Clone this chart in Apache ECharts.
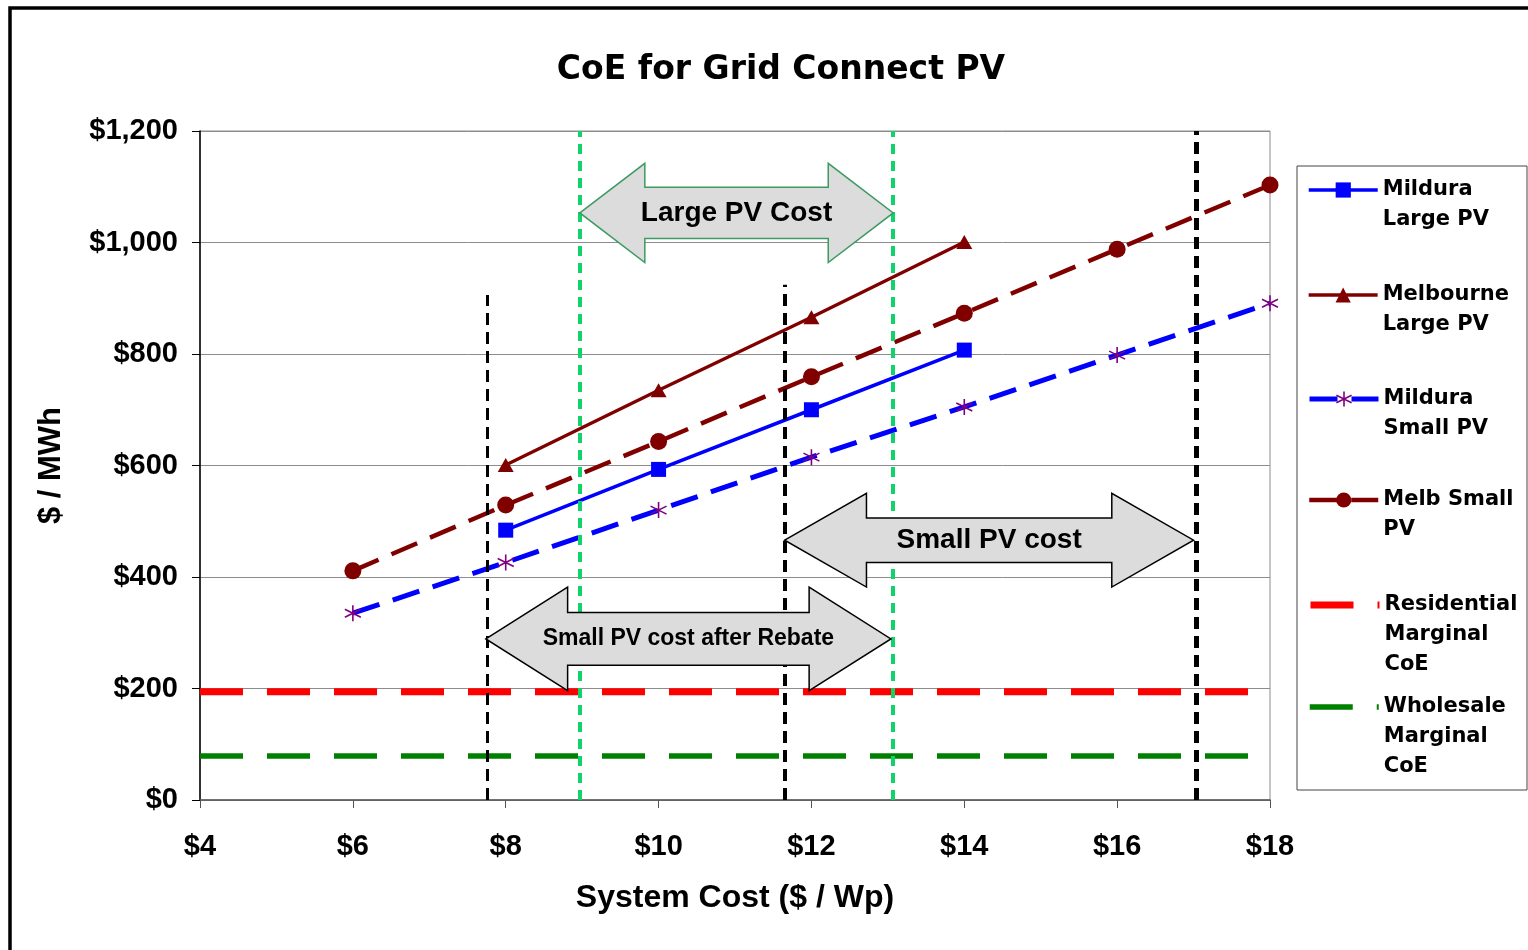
<!DOCTYPE html>
<html>
<head>
<meta charset="utf-8">
<script src="https://cdn.jsdelivr.net/npm/echarts@6/dist/echarts.min.js"></script>
<style>
html,body{margin:0;padding:0;background:#fff;}
#chart{width:1528px;height:950px;}
</style>
</head>
<body>
<div id="chart"></div>
<script>
// ---- data ----
const titleText = 'CoE for Grid Connect PV';
const xTicks = [4, 6, 8, 10, 12, 14, 16, 18];
const yTicks = [0, 200, 400, 600, 800, 1000, 1200];

const largeX = [8, 10, 12, 14];
const smallX = [6, 8, 10, 12, 14, 16, 18];
const milduraLarge = [484, 593, 700, 807];
const melbourneLarge = [601, 735, 866, 1001];
const milduraSmall = [335, 426, 520, 615, 705, 798, 891];
const melbSmall = [411, 529, 643, 759, 873, 988, 1103];
const residentialCoE = 194;
const wholesaleCoE = 79;

// vertical cost-range markers (x in $/Wp, top in $/MWh)
const greenMarkersX = [8.97, 13.07];
const blackMarkersX = [7.755, 11.65, 17.04];
const blackMarkersTop = [906, 924, 1200];

// double arrows: [xStart, xEnd, yCentre, headLength, headHalfHeight, shaftHalfHeight]
const arrowLabels = ['Large PV Cost', 'Small PV cost', 'Small PV cost after Rebate'];
const arrowGeom = [
  [8.97, 13.07, 1053, 0.85, 89, 46],
  [11.65, 17.0, 466, 1.07, 84, 40],
  [7.74, 13.04, 289, 1.07, 93, 47.5]
];

const legendNames = ['Mildura Large PV', 'Melbourne Large PV', 'Mildura Small PV', 'Melb Small PV', 'Residential Marginal CoE', 'Wholesale Marginal CoE'];
const legendLabels = ['Mildura\nLarge PV', 'Melbourne\nLarge PV', 'Mildura\nSmall PV', 'Melb Small\nPV', 'Residential\nMarginal\nCoE', 'Wholesale\nMarginal\nCoE'];

// ---- styling / layout ----
const SANS = '"Liberation Sans", Arial, sans-serif';
const WIDE = '"DejaVu Sans", sans-serif';
const arrowStroke = ['#3C9A62', '#000000', '#000000'];
const arrowFont = ['bold 28px ' + SANS, 'bold 28px ' + SANS, 'bold 23px ' + SANS];
const legendIconY = [190, 295, 399, 500, 605, 707];

const lineStyles = [
  {color: '#0000FF', width: 3.5, type: 'solid'},
  {color: '#800000', width: 3.3, type: 'solid'},
  {color: '#0000FF', width: 5, type: [28, 14]},
  {color: '#800000', width: 4.5, type: [28, 14]},
  {color: '#FF0000', width: 7, type: [43, 24]},
  {color: '#008000', width: 5.5, type: [43, 24]}
];
const itemStyles = [
  {color: '#0000FF', borderWidth: 0},
  {color: '#800000', borderWidth: 0},
  {color: 'rgba(0,0,0,0)', borderColor: '#800080', borderWidth: 1.6},
  {color: '#800000', borderWidth: 0},
  {color: 'rgba(0,0,0,0)', borderWidth: 0},
  {color: 'rgba(0,0,0,0)', borderWidth: 0}
];

const pairs = (xs, ys) => xs.map((x, i) => [x, ys[i]]);
const money = v => '$' + String(v).replace(/\B(?=(\d{3})+(?!\d))/g, ',');

const chart = echarts.init(document.getElementById('chart'), null, {renderer: 'canvas'});

const markLineData = [];
greenMarkersX.forEach(x => {
  markLineData.push([
    {coord: [x, 0], lineStyle: {color: '#10D36A', width: 4, type: [10, 7]}},
    {coord: [x, 1200]}
  ]);
});
const blackW = [3, 4, 5];
blackMarkersX.forEach((x, i) => {
  markLineData.push([
    {coord: [x, 0], lineStyle: {color: '#000', width: blackW[i], type: [12, 7]}},
    {coord: [x, blackMarkersTop[i]]}
  ]);
});

const L = 30;
const legends = legendNames.map((name, i) => {
  const n = legendLabels[i].split('\n').length;
  return {
    show: true,
    orient: 'vertical',
    left: 1307,
    top: legendIconY[i] - (2 * n - 1) * L / 2,
    padding: 0,
    itemGap: 0,
    itemWidth: 69,
    itemHeight: 19,
    selectedMode: false,
    formatter: () => '\n'.repeat(n - 1) + legendLabels[i],
    textStyle: {fontFamily: WIDE, fontWeight: 'bold', fontSize: 21, lineHeight: L, color: '#000'},
    lineStyle: lineStyles[i],
    itemStyle: itemStyles[i],
    data: [{name: name}]
  };
});

const seriesSymbols = [
  {symbol: 'rect', symbolSize: 15},
  {symbol: 'triangle', symbolSize: [16, 14]},
  {symbol: 'path://M8,0L8,16M1,4L15,12M1,12L15,4', symbolSize: 16},
  {symbol: 'circle', symbolSize: 17}
];
const seriesData = [pairs(largeX, milduraLarge), pairs(largeX, melbourneLarge), pairs(smallX, milduraSmall), pairs(smallX, melbSmall)];

const dataSeries = seriesData.map((d, i) => ({
  name: legendNames[i], type: 'line', z: 4, data: d,
  symbol: seriesSymbols[i].symbol, symbolSize: seriesSymbols[i].symbolSize,
  lineStyle: lineStyles[i], itemStyle: itemStyles[i]
}));

const option = {
  animation: false,
  backgroundColor: '#fff',
  graphic: [
    {type: 'rect', z: -10, shape: {x: 10, y: 8, width: 1600, height: 1000}, style: {fill: 'none', stroke: '#000', lineWidth: 3.5}},
    {type: 'rect', z: -10, shape: {x: 1297, y: 166, width: 230, height: 624}, style: {fill: '#fff', stroke: '#444', lineWidth: 1}},
    {type: 'text', z: 10, style: {text: titleText, x: 781, y: 70, align: 'center', verticalAlign: 'middle', font: 'bold 33px ' + WIDE, fill: '#000'}}
  ],
  legend: legends,
  grid: {left: 200, right: 258, top: 131, bottom: 150, show: true, borderColor: '#8c8c8c', borderWidth: 1, containLabel: false},
  xAxis: {
    type: 'value', min: 4, max: 18, interval: 2,
    name: 'System Cost ($ / Wp)', nameLocation: 'middle', nameGap: 82,
    nameTextStyle: {fontFamily: SANS, fontWeight: 'bold', fontSize: 32, color: '#000'},
    axisLine: {show: true, onZero: false, lineStyle: {color: '#555', width: 1.5}},
    axisTick: {show: true, length: 8, lineStyle: {color: '#555'}},
    axisLabel: {margin: 32, fontFamily: SANS, fontWeight: 'bold', fontSize: 29, color: '#000', formatter: v => money(v)},
    splitLine: {show: false}
  },
  yAxis: {
    type: 'value', min: 0, max: 1200, interval: 200,
    name: '$ / MWh', nameLocation: 'middle', nameGap: 133, nameRotate: 90,
    nameTextStyle: {fontFamily: SANS, fontWeight: 'bold', fontSize: 31, color: '#000'},
    axisLine: {show: true, lineStyle: {color: '#000', width: 1.5}},
    axisTick: {show: true, length: 8, lineStyle: {color: '#000'}},
    axisLabel: {margin: 22, fontFamily: SANS, fontWeight: 'bold', fontSize: 29, color: '#000', formatter: v => money(v)},
    splitLine: {show: true, lineStyle: {color: '#8c8c8c', width: 1}}
  },
  series: dataSeries.concat([
    {
      name: legendNames[4], type: 'line', z: 3, data: [[4, residentialCoE], [18, residentialCoE]],
      symbol: 'none', showSymbol: false,
      lineStyle: lineStyles[4], itemStyle: {color: '#FF0000'}
    },
    {
      name: legendNames[5], type: 'line', z: 3, data: [[4, wholesaleCoE], [18, wholesaleCoE]],
      symbol: 'none', showSymbol: false,
      lineStyle: lineStyles[5], itemStyle: {color: '#008000'}
    },
    {
      name: 'arrows', type: 'custom', z: 5, clip: false, silent: true,
      encode: {x: [0, 1], y: [2]},
      data: arrowGeom,
      renderItem: function (params, api) {
        const i = params.dataIndex;
        const x1 = api.value(0), x2 = api.value(1), yc = api.value(2);
        const hl = api.value(3), hh = api.value(4), sh = api.value(5);
        const pts = [
          [x1, yc], [x1 + hl, yc + hh], [x1 + hl, yc + sh], [x2 - hl, yc + sh], [x2 - hl, yc + hh],
          [x2, yc], [x2 - hl, yc - hh], [x2 - hl, yc - sh], [x1 + hl, yc - sh], [x1 + hl, yc - hh]
        ].map(p => api.coord(p));
        const c = api.coord([(x1 + x2) / 2, yc]);
        return {
          type: 'group',
          children: [
            {type: 'polygon', shape: {points: pts}, style: {fill: '#DCDCDC', stroke: arrowStroke[i], lineWidth: 1.5}},
            {type: 'text', style: {text: arrowLabels[i], x: c[0], y: c[1], align: 'center', verticalAlign: 'middle', font: arrowFont[i], fill: '#000'}}
          ]
        };
      }
    },
    {
      name: 'markers', type: 'line', z: 6, data: [], silent: true,
      markLine: {
        silent: true, symbol: ['none', 'none'], label: {show: false}, animation: false,
        data: markLineData
      }
    }
  ])
};
chart.setOption(option);
</script>
</body>
</html>
